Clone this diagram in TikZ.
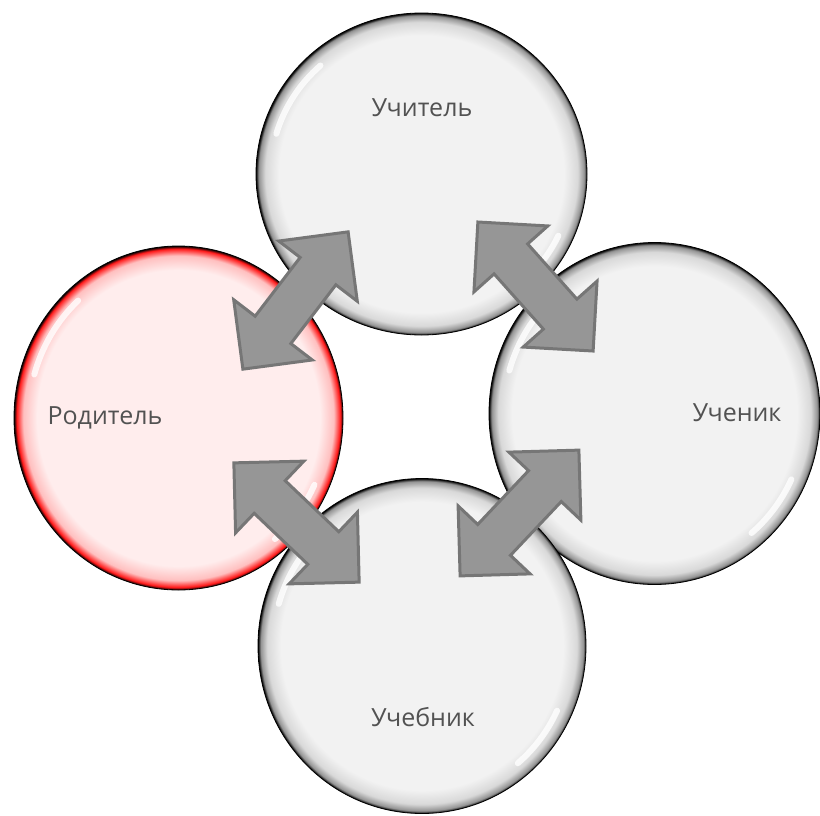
\documentclass[tikz,border=0pt]{standalone}
\usepackage{fontspec}
\setmainfont{Open Sans}
\usetikzlibrary{shapes.arrows, shapes.geometric}

\definecolor{arrowfill}{RGB}{150,150,150}
\definecolor{arrowline}{RGB}{118,118,118}
\definecolor{labelgrey}{RGB}{82,82,82}
\pgfdeclareradialshading{rimgrey}{\pgfpoint{0bp}{0bp}}{color(0bp)=(gray!10); color(21.5bp)=(gray!10); color(23.6bp)=(gray!30); color(24.6bp)=(gray!85); color(25bp)=(black); color(50bp)=(black)}
\pgfdeclareradialshading{rimred}{\pgfpoint{0bp}{0bp}}{color(0bp)=(red!7); color(21.5bp)=(red!7); color(23.6bp)=(red!25); color(24.6bp)=(red!90); color(25bp)=(black); color(50bp)=(black)}

\begin{document}
\begin{tikzpicture}[x=1pt, y=-1pt]
\tikzstyle{bubble}=[ellipse, inner sep=0pt, draw=black, line width=0.8pt, shading=rimgrey]
\tikzstyle{parentbubble}=[bubble, shading=rimred]
\tikzstyle{gloss}=[white, line width=6pt, line cap=round, opacity=0.8]
\tikzstyle{tag}=[text=labelgrey, font=\fontsize{25}{30}\selectfont]
\tikzstyle{link}=[double arrow, double arrow head extend=27pt, inner xsep=0pt, inner ysep=21pt, minimum height=173pt, fill=arrowfill, draw=arrowline, line width=3pt, sloped, midway]
    \useasboundingbox (0,0) rectangle (820,815);
    % bubbles
    \node[parentbubble, minimum width=329pt, minimum height=344pt] (parent) at (178.5,418) {};
    \node[bubble, minimum width=331pt, minimum height=322pt] (teacher) at (421.5,174) {};
    \node[bubble, minimum width=331pt, minimum height=342pt] (pupil) at (654.5,413.5) {};
    \node[bubble, minimum width=328pt, minimum height=335pt] (book) at (422,646) {};
    \foreach \b/\rx/\ry in {parent/150/158, teacher/151/146, pupil/151/156, book/149/153} {
        \pgfmathsetmacro\ax{\rx*cos(196)} \pgfmathsetmacro\ay{\ry*sin(196)}
        \pgfmathsetmacro\bx{\rx*cos(25)} \pgfmathsetmacro\by{\ry*sin(25)}
        \draw[gloss] ([shift={(\b.center)}]\ax,\ay) arc[start angle=196, end angle=228, x radius=\rx, y radius=\ry];
        \draw[gloss] ([shift={(\b.center)}]\bx,\by) arc[start angle=25, end angle=50, x radius=\rx, y radius=\ry];
    }
    % labels
    \node[tag] (teacher-label) at (422,108) {Учитель};
    \node[tag] (parent-label) at (105,418) {Родитель};
    \node[tag] (pupil-label) at (737,413) {Ученик};
    \node[tag] (book-label) at (423,717) {Учебник};
    % arrows
    \coordinate (tl-a) at (243,369); \coordinate (tl-b) at (348,232);
    \coordinate (tr-a) at (477,221); \coordinate (tr-b) at (594,352);
    \coordinate (bl-a) at (234,463); \coordinate (bl-b) at (359,582);
    \coordinate (br-a) at (460,576); \coordinate (br-b) at (579,450);
    \path (tl-a) -- (tl-b) node[link] (tl) {};
    \path (tr-a) -- (tr-b) node[link] (tr) {};
    \path (bl-a) -- (bl-b) node[link] (bl) {};
    \path (br-a) -- (br-b) node[link] (br) {};
\end{tikzpicture}
\end{document}
